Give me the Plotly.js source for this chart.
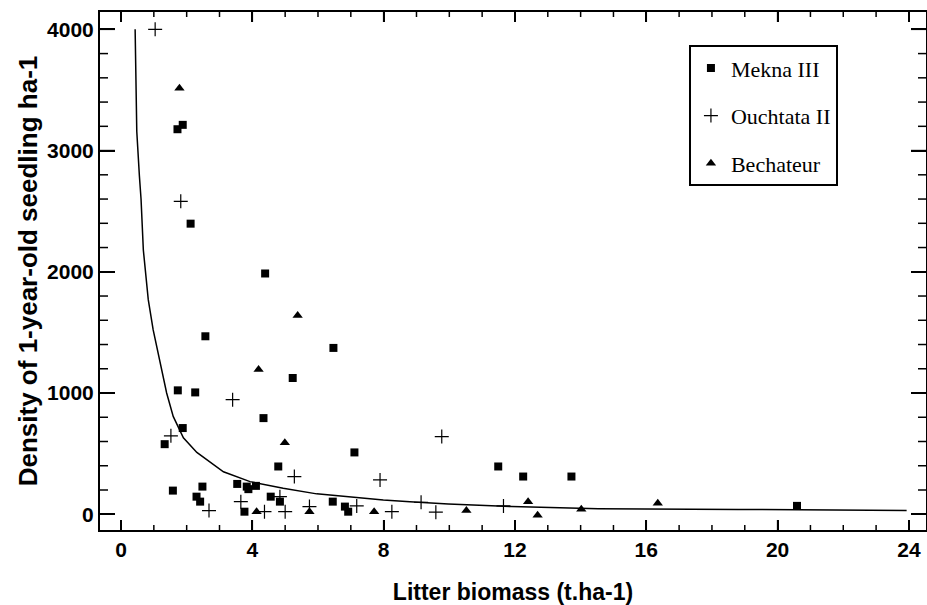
<!DOCTYPE html>
<html>
<head>
<meta charset="utf-8">
<script src="https://cdn.plot.ly/plotly-3.0.1.min.js"></script>
<style>
html,body{margin:0;padding:0;background:#fff;}
#chart{width:927px;height:605px;}
</style>
</head>
<body>
<div id="chart"></div>
<script>
// Mekna III (filled squares)
const meknaX = [1.72, 1.88, 2.12, 4.39, 2.57, 6.47, 5.23, 1.73, 2.26, 4.34, 1.88, 1.33, 7.11, 4.79, 1.58, 3.54, 3.83, 3.88, 4.11, 2.30, 2.41, 2.48, 3.76, 4.56, 4.84, 6.45, 6.82, 6.92, 11.49, 12.25, 13.72, 20.59];
const meknaY = [3176, 3212, 2397, 1986, 1468, 1372, 1124, 1022, 1005, 793, 711, 578, 510, 394, 195, 250, 228, 207, 234, 145, 104, 228, 21, 145, 104, 104, 63, 21, 394, 311, 311, 69];

// Ouchtata II (plus signs)
const ouchX = [1.04, 1.82, 3.40, 1.52, 5.28, 7.89, 9.77, 2.68, 3.65, 4.37, 4.84, 5.00, 5.74, 7.18, 8.25, 9.14, 9.59, 11.65];
const ouchY = [4000, 2581, 945, 647, 311, 283, 641, 30, 104, 21, 145, 21, 63, 69, 21, 99, 17, 69];

// Bechateur (filled triangles)
const bechX = [1.78, 5.38, 4.19, 4.99, 4.13, 5.74, 7.71, 10.52, 12.40, 12.69, 14.02, 16.35];
const bechY = [3515, 1639, 1193, 590, 21, 21, 21, 30, 104, -8, 41, 90];

// Fitted curve
const curveX = [0.43, 0.45, 0.48, 0.56, 0.61, 0.68, 0.78, 0.83, 0.98, 1.19, 1.39, 1.59, 1.90, 2.31, 3.12, 3.93, 4.94, 5.96, 6.98, 7.99, 8.80, 9.97, 11.90, 14.54, 18.80, 23.93];
const curveY = [4000, 3740, 3160, 2790, 2600, 2180, 1910, 1770, 1520, 1250, 1000, 807, 630, 510, 350, 269, 215, 168, 140, 118, 104, 85, 63, 46, 40, 30];

// Axis ticks
const xTickVals = [0, 4, 8, 12, 16, 20, 24];
const xMinorVals = [1, 2, 3, 5, 6, 7, 9, 10, 11, 13, 14, 15, 17, 18, 19, 21, 22, 23];
const yTickVals = [0, 1000, 2000, 3000, 4000];
const yMinorVals = [200, 400, 600, 800, 1200, 1400, 1600, 1800, 2200, 2400, 2600, 2800, 3200, 3400, 3600, 3800];

const seriesNames = ['Mekna III', 'Ouchtata II', 'Bechateur'];

const traces = [
  {
    x: curveX, y: curveY, mode: 'lines', type: 'scatter',
    line: {color: '#000', width: 1.5}, showlegend: false, hoverinfo: 'skip'
  },
  {
    x: meknaX, y: meknaY, mode: 'markers', type: 'scatter', name: seriesNames[0],
    legendgroup: 'a',
    marker: {symbol: 'square', size: 8, color: '#000'}
  },
  {
    x: ouchX, y: ouchY, mode: 'markers', type: 'scatter', name: seriesNames[1],
    legendgroup: 'b',
    marker: {symbol: 'cross-thin', size: 10, color: '#000', line: {color: '#000', width: 1.2}}
  },
  {
    x: bechX, y: bechY, mode: 'markers', type: 'scatter', name: seriesNames[2],
    legendgroup: 'c',
    marker: {symbol: 'triangle-up', size: 9, color: '#000'}
  }
];

// Inside ticks on all four sides, placed through the axes' own scales
const tickLine = {color: '#000', width: 1.5};
const shapes = [];
function xTick(v, len) {
  shapes.push({type: 'line', xref: 'x', yref: 'paper', x0: v, x1: v, ysizemode: 'pixel', yanchor: 0, y0: 0, y1: len, line: tickLine, layer: 'above'});
  shapes.push({type: 'line', xref: 'x', yref: 'paper', x0: v, x1: v, ysizemode: 'pixel', yanchor: 1, y0: 0, y1: -len, line: tickLine, layer: 'above'});
}
function yTick(v, len) {
  shapes.push({type: 'line', xref: 'paper', yref: 'y', y0: v, y1: v, xsizemode: 'pixel', xanchor: 0, x0: 0, x1: len, line: tickLine, layer: 'above'});
  shapes.push({type: 'line', xref: 'paper', yref: 'y', y0: v, y1: v, xsizemode: 'pixel', xanchor: 1, x0: 0, x1: -len, line: tickLine, layer: 'above'});
}
xTickVals.forEach(v => xTick(v, 10));
xMinorVals.forEach(v => xTick(v, 5));
yTickVals.forEach(v => yTick(v, 15));
yMinorVals.forEach(v => yTick(v, 8));

const tickFont = {family: 'Liberation Sans, Arial, sans-serif', size: 21, color: '#000', weight: 'bold'};

const layout = {
  width: 927, height: 605,
  margin: {l: 100, r: 1, t: 12, b: 75, pad: 0},
  paper_bgcolor: '#fff', plot_bgcolor: '#fff',
  font: {family: 'Liberation Sans, Arial, sans-serif', color: '#000'},
  showlegend: true,
  legend: {
    x: 0.713, y: 0.936, xanchor: 'left', yanchor: 'top',
    bgcolor: '#fff', bordercolor: '#000', borderwidth: 2,
    font: {family: 'Liberation Serif, Times New Roman, serif', size: 22, color: '#000'},
    tracegroupgap: 16, itemwidth: 30
  },
  shapes: shapes,
  xaxis: {
    range: [-0.64, 24.52],
    tickmode: 'array', tickvals: xTickVals, ticktext: xTickVals.map(String),
    ticks: 'inside', ticklen: 10, tickwidth: 1.5, tickcolor: '#000',
    showline: true, linecolor: '#000', linewidth: 2, mirror: 'ticks',
    showgrid: false, zeroline: false,
    tickfont: tickFont,
    title: {text: 'Litter biomass (t.ha-1)', font: {family: 'Liberation Sans, Arial, sans-serif', size: 23, color: '#000', weight: 'bold'}}
  },
  yaxis: {
    range: [-130, 4143],
    tickmode: 'array', tickvals: yTickVals, ticktext: yTickVals.map(String),
    ticks: 'inside', ticklen: 15, tickwidth: 1.5, tickcolor: '#000',
    showline: true, linecolor: '#000', linewidth: 2, mirror: 'ticks',
    showgrid: false, zeroline: false,
    tickfont: tickFont,
    title: {text: 'Density of 1-year-old seedling ha-1', font: {family: 'Liberation Sans, Arial, sans-serif', size: 26, color: '#000', weight: 'bold'}}
  }
};

Plotly.newPlot('chart', traces, layout, {displayModeBar: false});
</script>
</body>
</html>
